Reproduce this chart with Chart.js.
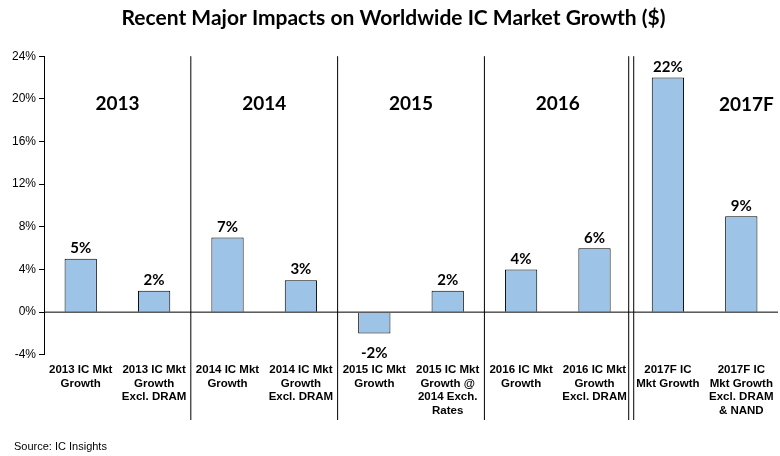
<!DOCTYPE html>
<html>
<head>
<meta charset="utf-8">
<script src="https://cdn.jsdelivr.net/npm/chart.js@4/dist/chart.umd.min.js"></script>
<style>
  body { margin: 0; background: #fff; }
  #wrap { width: 780px; height: 456px; }
</style>
</head>
<body>
<div id="wrap"><canvas id="c"></canvas></div>
<script>
const categories = [
  ['2013 IC Mkt', 'Growth'],
  ['2013 IC Mkt', 'Growth', 'Excl. DRAM'],
  ['2014 IC Mkt', 'Growth'],
  ['2014 IC Mkt', 'Growth', 'Excl. DRAM'],
  ['2015 IC Mkt', 'Growth'],
  ['2015 IC Mkt', 'Growth @', '2014 Exch.', 'Rates'],
  ['2016 IC Mkt', 'Growth'],
  ['2016 IC Mkt', 'Growth', 'Excl. DRAM'],
  ['2017F IC', 'Mkt Growth'],
  ['2017F IC', 'Mkt Growth', 'Excl. DRAM', '& NAND']
];
const growth = [5, 2, 7, 3, -2, 2, 4, 6, 22, 9];
const yearLabels = ['2013', '2014', '2015', '2016', '2017F'];
const yTicks = [-4, 0, 4, 8, 12, 16, 20, 24];

const extras = {
  id: 'extras',
  afterDatasetsDraw(chart) {
    const ctx = chart.ctx;
    const x = chart.scales.x, y = chart.scales.y;
    const area = chart.chartArea;
    ctx.save();
    // zero line
    ctx.strokeStyle = '#000'; ctx.lineWidth = 1;
    ctx.beginPath(); ctx.moveTo(area.left, y.getPixelForValue(0)); ctx.lineTo(area.right, y.getPixelForValue(0)); ctx.stroke();
    // group separators
    const step = x.getPixelForValue(1) - x.getPixelForValue(0);
    for (let g = 1; g < 5; g++) {
      const px = x.getPixelForValue(g * 2) - step / 2;
      const offs = g === 4 ? [-2.5, 2.5] : [0];
      offs.forEach(o => {
        ctx.beginPath(); ctx.moveTo(px + o, area.top); ctx.lineTo(px + o, 420); ctx.stroke();
      });
    }
    // year labels
    ctx.fillStyle = '#000';
    ctx.font = 'bold 19px Lato, "Open Sans", sans-serif';
    ctx.textAlign = 'center'; ctx.textBaseline = 'middle';
    yearLabels.forEach((lab, i) => {
      let cx = (x.getPixelForValue(i * 2) + x.getPixelForValue(i * 2 + 1)) / 2;
      if (i === 4) cx = x.getPixelForValue(9) + 5;
      ctx.fillText(lab, cx, y.getPixelForValue(i === 4 ? 19.4 : 19.5));
    });
    // value labels
    ctx.font = 'bold 15px Lato, "Open Sans", sans-serif';
    const meta = chart.getDatasetMeta(0);
    meta.data.forEach((bar, i) => {
      const v = growth[i];
      if (v >= 0) { ctx.textBaseline = 'bottom'; ctx.fillText(v + '%', bar.x, bar.y - 3); }
      else { ctx.textBaseline = 'top'; ctx.fillText(v + '%', bar.x, bar.y + 12); }
    });
    // source
    ctx.font = '11px "Liberation Sans", Arial, sans-serif';
    ctx.textAlign = 'left'; ctx.textBaseline = 'middle';
    ctx.fillText('Source: IC Insights', 14, 447);
    ctx.restore();
  }
};

new Chart(document.getElementById('c'), {
  type: 'bar',
  data: {
    labels: categories,
    datasets: [{
      data: growth,
      backgroundColor: '#9DC3E6',
      borderColor: '#000',
      borderWidth: 1,
      barPercentage: 0.44,
      categoryPercentage: 1
    }]
  },
  options: {
    responsive: true,
    maintainAspectRatio: false,
    animation: false,
    layout: { padding: { left: 9, right: 2, top: 0, bottom: 38 } },
    plugins: {
      legend: { display: false },
      tooltip: { enabled: false },
      title: {
        display: true,
        text: 'Recent Major Impacts on Worldwide IC Market Growth ($)',
        color: '#000',
        font: { family: 'Lato, "Open Sans", sans-serif', size: 21, weight: 'bold' },
        padding: { top: 6, bottom: 25 }
      }
    },
    scales: {
      x: {
        grid: { display: false },
        border: { display: false },
        ticks: {
          color: '#000', maxRotation: 0, autoSkip: false,
          font: { family: '"Liberation Sans", Arial, sans-serif', size: 11.5, weight: 'bold' },
          padding: 0
        }
      },
      y: {
        min: -4, max: 24,
        afterBuildTicks(axis) { axis.ticks = yTicks.map(v => ({ value: v })); },
        grid: { drawOnChartArea: false, drawTicks: true, tickLength: 5, color: '#000' },
        border: { display: true, color: '#000' },
        ticks: {
          color: '#000', padding: 3,
          font: { family: '"Liberation Sans", Arial, sans-serif', size: 12 },
          callback: v => v + '%'
        }
      }
    }
  },
  plugins: [extras]
});
</script>
</body>
</html>
